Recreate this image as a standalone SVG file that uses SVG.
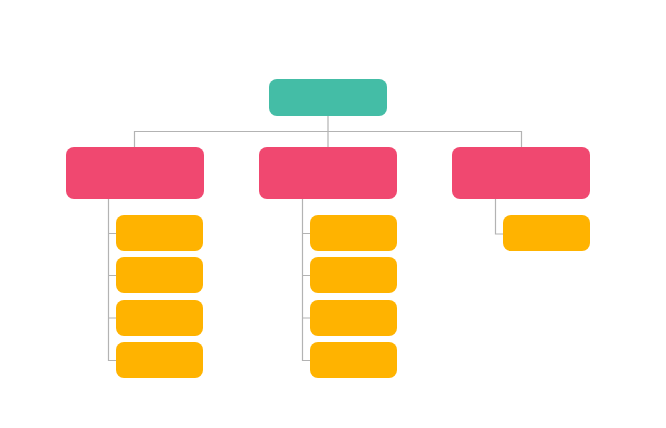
<svg xmlns="http://www.w3.org/2000/svg" width="666" height="428" viewBox="0 0 666 428">
<style>
.root{fill:#44bda6}
.mid{fill:#f04870}
.leaf{fill:#ffb300}
.conn{fill:none;stroke:#b3b3b3;stroke-width:1.2}
</style>
<rect width="666" height="428" fill="#ffffff"/>
<g id="connectors" class="conn">
<path d="M328 116V131.5M134.5 147V131.5H521.5V147M328 131.5V147"/>
<path d="M108.5 199V360.5H116M108.5 233.5H116M108.5 275.5H116M108.5 318H116"/>
<path d="M302.5 199V360.5H310M302.5 233.5H310M302.5 275.5H310M302.5 318H310"/>
<path d="M495.5 199V234H503"/>
</g>
<g id="root"><rect class="root" x="269" y="79" width="118" height="37" rx="8"/></g>
<g id="b1"><rect class="mid" x="66" y="147" width="138" height="52" rx="8"/></g>
<g id="b2"><rect class="mid" x="259" y="147" width="138" height="52" rx="8"/></g>
<g id="b3"><rect class="mid" x="452" y="147" width="138" height="52" rx="8"/></g>
<g id="l1a"><rect class="leaf" x="116" y="215" width="87" height="36" rx="8"/></g>
<g id="l1b"><rect class="leaf" x="116" y="257" width="87" height="36" rx="8"/></g>
<g id="l1c"><rect class="leaf" x="116" y="300" width="87" height="36" rx="8"/></g>
<g id="l1d"><rect class="leaf" x="116" y="342" width="87" height="36" rx="8"/></g>
<g id="l2a"><rect class="leaf" x="310" y="215" width="87" height="36" rx="8"/></g>
<g id="l2b"><rect class="leaf" x="310" y="257" width="87" height="36" rx="8"/></g>
<g id="l2c"><rect class="leaf" x="310" y="300" width="87" height="36" rx="8"/></g>
<g id="l2d"><rect class="leaf" x="310" y="342" width="87" height="36" rx="8"/></g>
<g id="l3a"><rect class="leaf" x="503" y="215" width="87" height="36" rx="8"/></g>
</svg>
